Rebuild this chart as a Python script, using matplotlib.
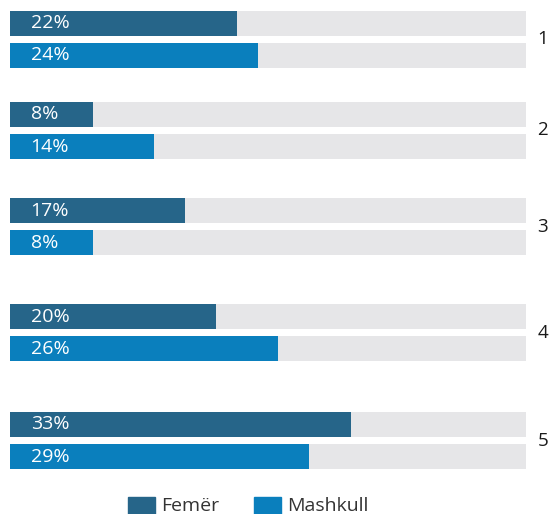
import numpy as np
import matplotlib.pyplot as plt
from matplotlib.patches import Rectangle

plt.rcParams['font.family'] = ['Open Sans', 'DejaVu Sans']

groups = ['1', '2', '3', '4', '5']
femer = [22, 8, 17, 20, 33]
mashkull = [24, 14, 8, 26, 29]
series = ['Femër', 'Mashkull']
colors = ['#266589', '#0a7fbd']
grey = '#e6e6e8'
xmax = 50

W, H = 549, 514
fig = plt.figure(figsize=(W / 100, H / 100), dpi=100)
ax = fig.add_axes([10 / W, (H - 469) / H, 516 / W, 458 / H])

# group spacing in the original is a bit uneven
y = np.array([0, 0.91, 1.87, 2.93, 4.01])
off = 0.16
h = 0.25

for vals, dy, c in [(femer, -off, colors[0]), (mashkull, off, colors[1])]:
    ax.barh(y + dy, [xmax] * len(y), height=h, color=grey, linewidth=0)
    ax.barh(y + dy, vals, height=h, color=c, linewidth=0)
    for yi, v in zip(y, vals):
        ax.text(2, yi + dy, f'{v}%', color='white', fontsize=14,
                va='center', ha='left')

for yi, g in zip(y, groups):
    ax.text(xmax + 1.1, yi, g, fontsize=13.5, va='center', ha='left',
            color='#1a1a1a', clip_on=False)

ax.set_xlim(0, xmax)
ax.set_ylim(4.01 + 0.285, -0.285)
ax.axis('off')

# legend
for i, (name, c) in enumerate(zip(series, colors)):
    x0 = [128, 254][i]
    fig.patches.append(Rectangle((x0 / W, 0), 27 / W, 17 / H, color=c,
                                 transform=fig.transFigure, figure=fig))
    fig.text((x0 + 33) / W, 8 / H, name, fontsize=14, va='center',
             ha='left', color='#333333')

fig.savefig('out.png', dpi=100)
